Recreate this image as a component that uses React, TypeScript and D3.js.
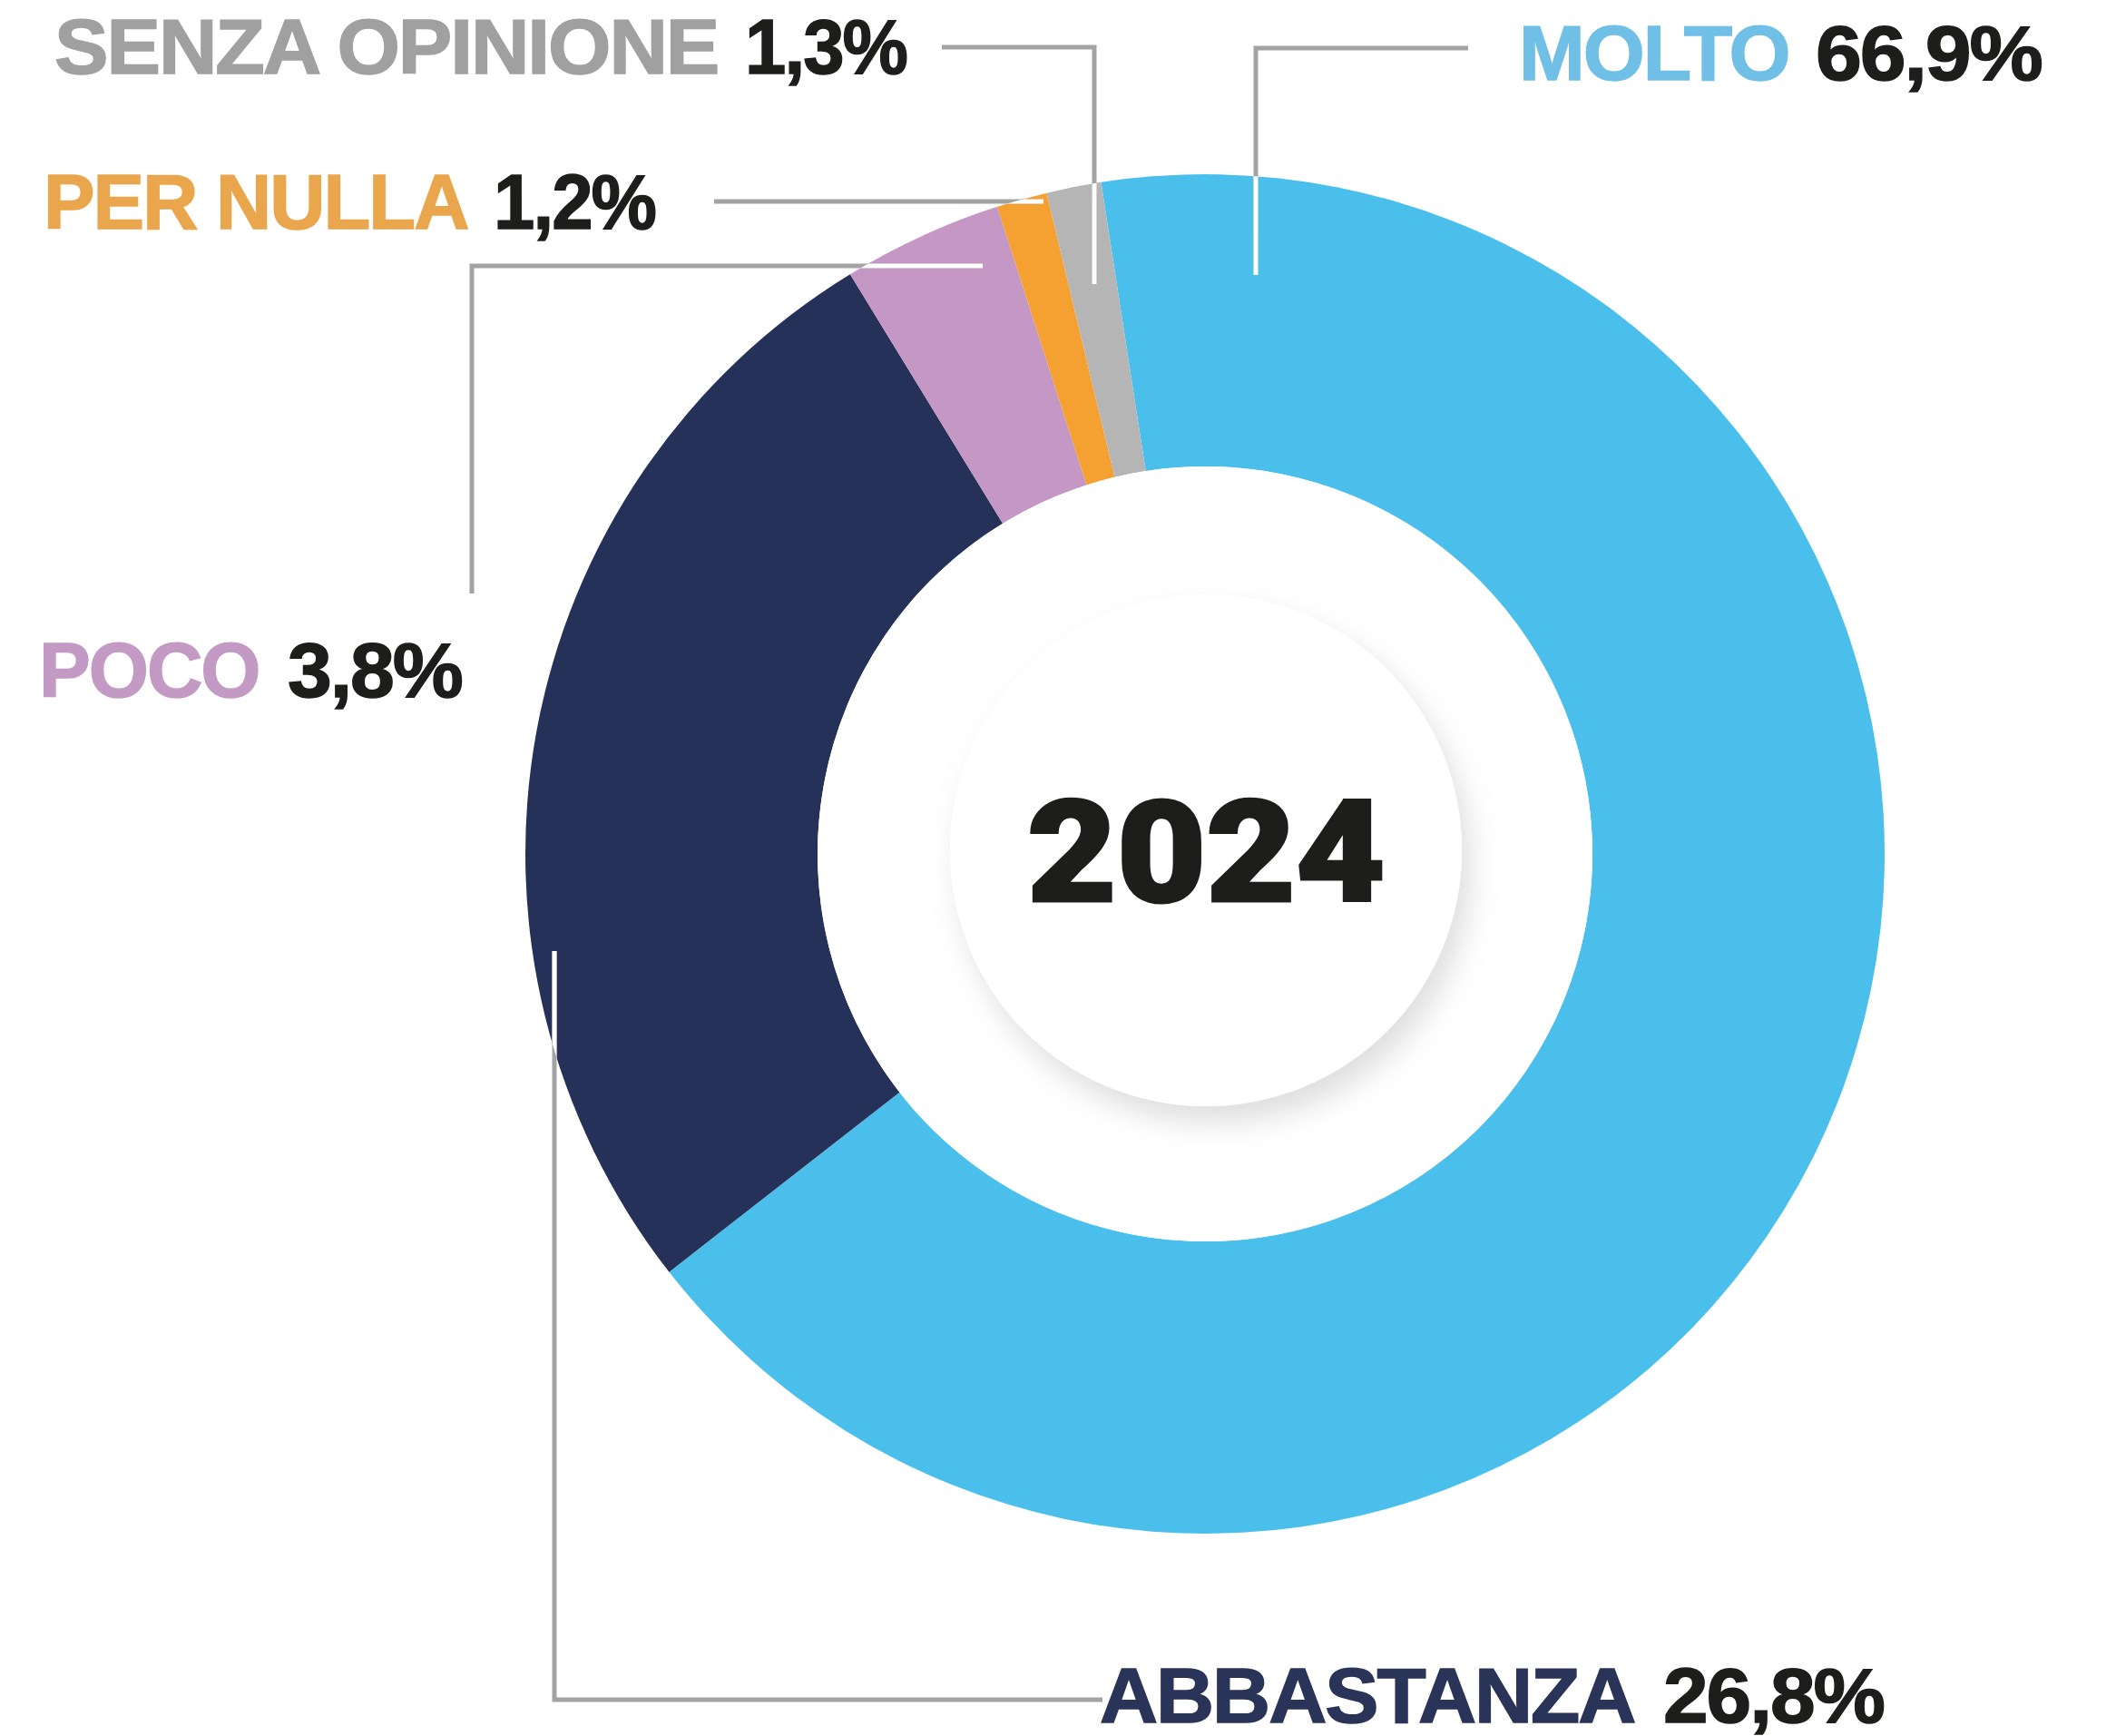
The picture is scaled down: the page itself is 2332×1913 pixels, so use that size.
import React, { useLayoutEffect, useRef } from "react";
import * as d3 from "d3";

// ---- data ----
const categories = ["MOLTO", "ABBASTANZA", "POCO", "PER NULLA", "SENZA OPINIONE"];
const values = [66.9, 26.8, 3.8, 1.2, 1.3];
const sliceColors = ["#4bbfeb", "#263159", "#c597c4", "#f4a132", "#b5b5b5"];
const labelColors = ["#6fbfe7", "#2a3358", "#c39ac4", "#e9a64c", "#a0a0a0"];
const centerTitle = "2024";

// ---- layout ----
const W = 2332;
const H = 1913;
const CX = 1328;
const CY = 941;
const R_OUT = 749;
const R_IN = 427;
const START_ANGLE = (-8.8 * Math.PI) / 180;

const labelLayout = [
  { x: 1674, numX: 2001, y: 88, w: 301, nw: 253, leader: [[1618, 53], [1384, 53], [1384, 303]] },
  { x: 1212, numX: 1833, y: 1898, w: 593, nw: 247, leader: [[1215, 1873], [611, 1873], [611, 1048]] },
  { x: 43, numX: 317, y: 768, w: 246, nw: 196, leader: [[520, 654], [520, 293], [1083, 293]] },
  { x: 48, numX: 544, y: 252, w: 471, nw: 182, leader: [[787, 222], [1150, 222]] },
  { x: 60, numX: 821, y: 81, w: 735, nw: 182, leader: [[1038, 52], [1206, 52], [1206, 313]] },
];

const fmt = (v: number) => v.toFixed(1).replace(".", ",") + "%";
const LABEL_FONT = "'Liberation Sans', Arial, Helvetica, sans-serif";
const TITLE_FONT = "Roboto, 'Liberation Sans', sans-serif";

function FitText(props: {
  x: number;
  y: number;
  width: number;
  fill: string;
  size: number;
  family: string;
  weight: number;
  stroke?: string;
  strokeWidth?: number;
  spacing?: number;
  children: string;
}) {
  const ref = useRef<SVGTextElement>(null);
  useLayoutEffect(() => {
    const el = ref.current;
    if (!el) return;
    el.removeAttribute("transform");
    const bb = el.getBBox();
    const extra = props.strokeWidth || 0;
    const natural = bb.width + extra - (props.spacing || 0);
    if (natural > 0) {
      const sx = props.width / natural;
      el.setAttribute(
        "transform",
        `translate(${props.x},0) scale(${sx},1) translate(${-props.x},0)`
      );
    }
  });
  return (
    <text
      ref={ref}
      x={props.x}
      y={props.y}
      fill={props.fill}
      fontFamily={props.family}
      fontWeight={props.weight}
      fontSize={props.size}
      letterSpacing={props.spacing || 0}
      stroke={props.stroke}
      strokeWidth={props.strokeWidth}
      strokeLinejoin="miter"
      paintOrder="stroke"
    >
      {props.children}
    </text>
  );
}

export default function App() {
  const data = categories.map((c, i) => ({ c, v: values[i], i }));
  const pie = d3
    .pie<{ c: string; v: number; i: number }>()
    .value((d) => d.v)
    .sort(null)
    .startAngle(START_ANGLE)
    .endAngle(START_ANGLE + 2 * Math.PI);
  const arcs = pie(data);
  const arcGen = d3
    .arc<d3.PieArcDatum<{ c: string; v: number; i: number }>>()
    .innerRadius(R_IN)
    .outerRadius(R_OUT);
  const line = d3.line();

  return (
    <svg
      width={W}
      height={H}
      viewBox={`0 0 ${W} ${H}`}
      style={{ position: "absolute", left: 0, top: 0, background: "#fff" }}
    >
      <defs>
        <clipPath id="ringClip">
          <circle cx={CX} cy={CY} r={R_OUT} />
        </clipPath>
        <filter id="discShadow" x="-30%" y="-30%" width="170%" height="170%">
          <feDropShadow dx="10" dy="18" stdDeviation="16" floodColor="#000" floodOpacity="0.13" />
        </filter>
      </defs>
      <rect x={0} y={0} width={W} height={H} fill="#fff" />
      <g transform={`translate(${CX},${CY})`}>
        {arcs.map((a) => (
          <path key={a.data.c} d={arcGen(a) || ""} fill={sliceColors[a.data.i]} />
        ))}
        <circle r={R_IN} fill="#ffffff" />
      </g>
      <circle cx={CX + 1} cy={CY - 4} r={282} fill="#fff" filter="url(#discShadow)" />
      <FitText
        x={1132}
        y={993}
        width={398}
        fill="#1d1d1b"
        size={156}
        family={TITLE_FONT}
        weight={900}
        stroke="#1d1d1b"
        strokeWidth={3}
      >
        {centerTitle}
      </FitText>
      {/* leader lines */}
      {labelLayout.map((l, i) => (
        <path
          key={"lg" + i}
          d={line(l.leader as [number, number][]) || ""}
          fill="none"
          stroke="#a3a3a3"
          strokeWidth={5}
        />
      ))}
      <g clipPath="url(#ringClip)">
        {labelLayout.map((l, i) => (
          <path
            key={"lw" + i}
            d={line(l.leader as [number, number][]) || ""}
            fill="none"
            stroke="#ffffff"
            strokeWidth={5}
          />
        ))}
      </g>
      {/* labels */}
      {labelLayout.map((l, i) => (
        <g key={"t" + i}>
          <FitText
            x={l.x}
            y={l.y}
            width={l.w}
            fill={labelColors[i]}
            size={86}
            family={LABEL_FONT}
            weight={700}
            stroke={labelColors[i]}
            strokeWidth={1.5}
            spacing={-2}
          >
            {categories[i]}
          </FitText>
          <FitText
            x={l.numX}
            y={l.y}
            width={l.nw}
            fill="#1d1d1b"
            size={86}
            family={LABEL_FONT}
            weight={700}
            stroke="#1d1d1b"
            strokeWidth={1.5}
            spacing={-2}
          >
            {fmt(values[i])}
          </FitText>
        </g>
      ))}
    </svg>
  );
}
